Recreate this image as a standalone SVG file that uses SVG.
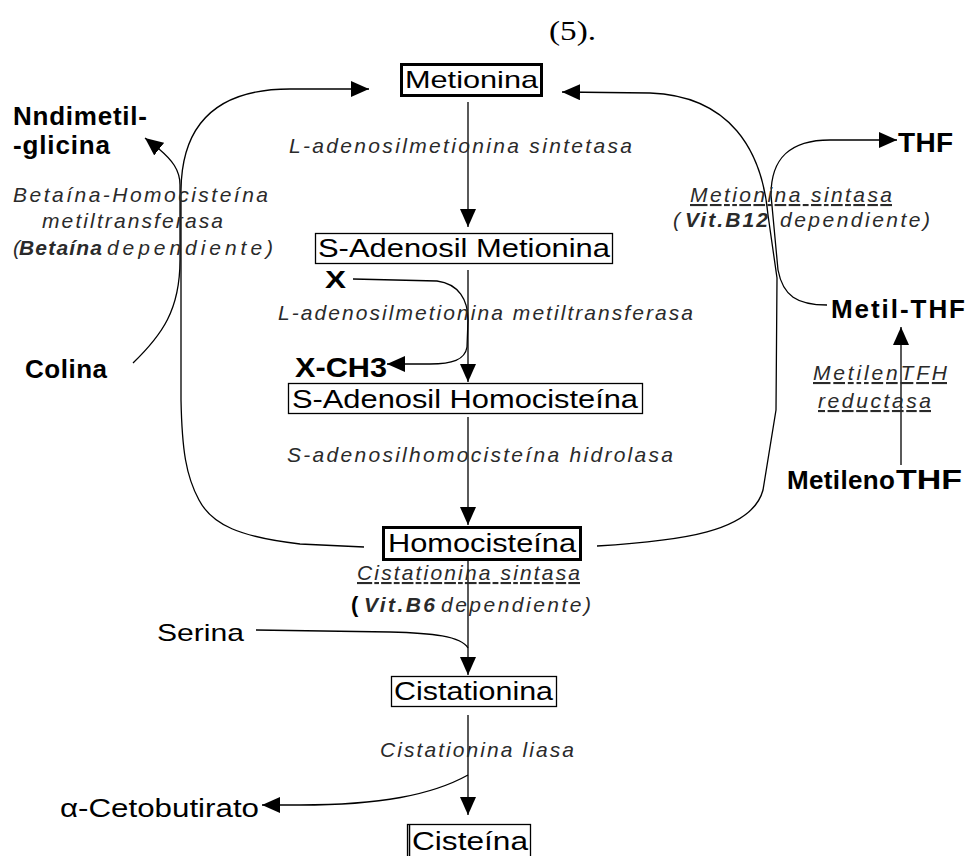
<svg xmlns="http://www.w3.org/2000/svg" width="967" height="856" viewBox="0 0 967 856">
<style>
text{font-family:"Liberation Sans",Arial,sans-serif;fill:#000}
.b{font-weight:bold}
.e{font-style:italic;fill:#2a2a2a;font-size:21px}
.u{text-decoration:underline}
.box{fill:#fff;stroke:#000;stroke-width:1.3}
.thick{stroke-width:3}
.conn path,.conn line{fill:none;stroke:#000;stroke-width:1.3}
.arr{marker-end:url(#ah)}
</style>
<defs>
<marker id="ah" viewBox="0 0 18 16" refX="18" refY="8" markerWidth="18" markerHeight="16" markerUnits="userSpaceOnUse" orient="auto">
<path d="M0,0 L18,8 L0,16 z" fill="#000"/>
</marker>
</defs>
<rect width="967" height="856" fill="#fff"/>
<text x="549" y="40" style="font-family:'Liberation Serif','Times New Roman',serif;font-size:28px" textLength="47" lengthAdjust="spacingAndGlyphs">(5).</text>

<g class="conn">
<line class="arr" x1="468" y1="102" x2="468" y2="227"/>
<line class="arr" x1="468" y1="270" x2="468" y2="382"/>
<line class="arr" x1="468" y1="417" x2="468" y2="525"/>
<line class="arr" x1="468" y1="561" x2="468" y2="675"/>
<line class="arr" x1="468" y1="715" x2="468" y2="815"/>
<line class="arr" x1="901" y1="465" x2="901" y2="327"/>
<path class="arr" d="M364 547 L300 544 C240 537 212 525 199 500 C186 476 182 450 181 400 L181 190 C182 105 240 89 290 89 L369 89"/>
<path class="arr" d="M597 546 C680 541 752 532 763 490 L776 410 L777 278 L768 215 C762 150 730 96 650 93 L562 92"/>
<path class="arr" d="M827 305 C797 305 783 296 778 270 L771 195 C771 158 790 140 830 140 L897 140"/>
<path class="arr" d="M133 363 C162 335 180 310 180 260 L180 185 C180 170 172 160 159 149 L145 138"/>
<path class="arr" d="M353 279 L437 281 C459 284 468 300 468 320 L467 347 C465 360 452 364 430 364 L387 364"/>
<path d="M256 630 L390 632 C432 633 461 636 468 648"/>
<path class="arr" d="M468 775 C432 795 380 805 300 805 L262 805"/>
</g>

<g id="metionina">
<rect class="box thick" x="401.5" y="64.5" width="140" height="31"/>
<text x="405" y="88" style="font-size:24px" textLength="133" lengthAdjust="spacingAndGlyphs">Metionina</text>
</g>
<g id="sam">
<rect class="box" x="315.5" y="233.5" width="297" height="30"/>
<text x="318" y="257" style="font-size:26px" textLength="292" lengthAdjust="spacingAndGlyphs">S-Adenosil Metionina</text>
</g>
<g id="sah">
<rect class="box" x="288.5" y="383.5" width="354" height="30"/>
<text x="292" y="408" style="font-size:26px" textLength="346" lengthAdjust="spacingAndGlyphs">S-Adenosil Homocisteína</text>
</g>
<g id="homocisteina">
<rect class="box thick" x="383.5" y="527.5" width="197" height="32"/>
<text x="388" y="552" style="font-size:26px" textLength="188" lengthAdjust="spacingAndGlyphs">Homocisteína</text>
</g>
<g id="cistationina">
<rect class="box" x="391.5" y="676.5" width="165" height="30"/>
<text x="394" y="700" style="font-size:25px" textLength="159" lengthAdjust="spacingAndGlyphs">Cistationina</text>
</g>
<g id="cisteina">
<rect class="box" x="407.5" y="824.5" width="123" height="40"/>
<line x1="409.5" y1="824" x2="409.5" y2="856" stroke="#000" stroke-width="1.5"/>
<text x="412" y="850" style="font-size:25px" textLength="116" lengthAdjust="spacingAndGlyphs">Cisteína</text>
</g>

<g id="enz-sintetasa"><text class="e" x="289" y="153" textLength="343" lengthAdjust="spacing">L-adenosilmetionina sintetasa</text></g>
<g id="enz-metiltransferasa"><text class="e" x="278" y="320" textLength="415" lengthAdjust="spacing">L-adenosilmetionina metiltransferasa</text></g>
<g id="enz-hidrolasa"><text class="e" x="287" y="462" textLength="386" lengthAdjust="spacing">S-adenosilhomocisteína hidrolasa</text></g>
<g id="enz-cbs">
<text class="e u" x="357" y="580" textLength="223" lengthAdjust="spacing">Cistationina sintasa</text>
<text x="351" y="612" style="font-size:22px;font-weight:bold">(</text>
<text class="e b" x="364" y="612" textLength="71" lengthAdjust="spacing">Vit.B6</text>
<text class="e" x="441" y="612" textLength="150" lengthAdjust="spacing">dependiente)</text>
</g>
<g id="enz-liasa"><text class="e" x="380" y="757" textLength="194" lengthAdjust="spacing">Cistationina liasa</text></g>
<g id="enz-bhmt">
<text class="e" x="13" y="202" textLength="255" lengthAdjust="spacing">Betaína-Homocisteína</text>
<text class="e" x="42" y="228" textLength="181" lengthAdjust="spacing">metiltransferasa</text>
<text class="e" x="13" y="255">(</text>
<text class="e b" x="19" y="255" textLength="83" lengthAdjust="spacing">Betaína</text>
<text class="e" x="107" y="255" textLength="166" lengthAdjust="spacing">dependiente)</text>
</g>
<g id="enz-ms">
<text class="e u" x="690" y="202" textLength="202" lengthAdjust="spacing">Metionina sintasa</text>
<text class="e" x="673" y="227">(</text>
<text class="e b" x="685" y="227" textLength="83" lengthAdjust="spacing">Vit.B12</text>
<text class="e" x="780" y="227" textLength="150" lengthAdjust="spacing">dependiente)</text>
</g>
<g id="enz-mthfr">
<text class="e u" x="813" y="380" textLength="134" lengthAdjust="spacing">MetilenTFH</text>
<text class="e u" x="818" y="408" textLength="113" lengthAdjust="spacing">reductasa</text>
</g>

<g id="nndimetilglicina">
<text class="b" x="13" y="125" style="font-size:26px" textLength="134" lengthAdjust="spacing">Nndimetil-</text>
<text class="b" x="13" y="154" style="font-size:26px" textLength="97" lengthAdjust="spacing">-glicina</text>
</g>
<g id="colina"><text class="b" x="25" y="378" style="font-size:26px" textLength="82" lengthAdjust="spacing">Colina</text></g>
<g id="x"><text class="b" x="325" y="288" style="font-size:24px" textLength="21" lengthAdjust="spacingAndGlyphs">X</text></g>
<g id="xch3"><text class="b" x="295" y="377" style="font-size:27px" textLength="92" lengthAdjust="spacingAndGlyphs">X-CH3</text></g>
<g id="thf"><text class="b" x="898" y="152" style="font-size:28px" textLength="55" lengthAdjust="spacing">THF</text></g>
<g id="metilthf"><text class="b" x="831" y="318" style="font-size:26px" textLength="134" lengthAdjust="spacing">Metil-THF</text></g>
<g id="metilenothf">
<text class="b" x="787" y="489" style="font-size:26px" textLength="108" lengthAdjust="spacing">Metileno</text>
<text class="b" x="896" y="489" style="font-size:27px" textLength="66" lengthAdjust="spacingAndGlyphs">THF</text>
</g>
<g id="serina"><text x="157" y="641" style="font-size:24px" textLength="87" lengthAdjust="spacingAndGlyphs">Serina</text></g>
<g id="cetobutirato"><text x="60" y="817" style="font-size:26px" textLength="199" lengthAdjust="spacingAndGlyphs">α-Cetobutirato</text></g>
</svg>
